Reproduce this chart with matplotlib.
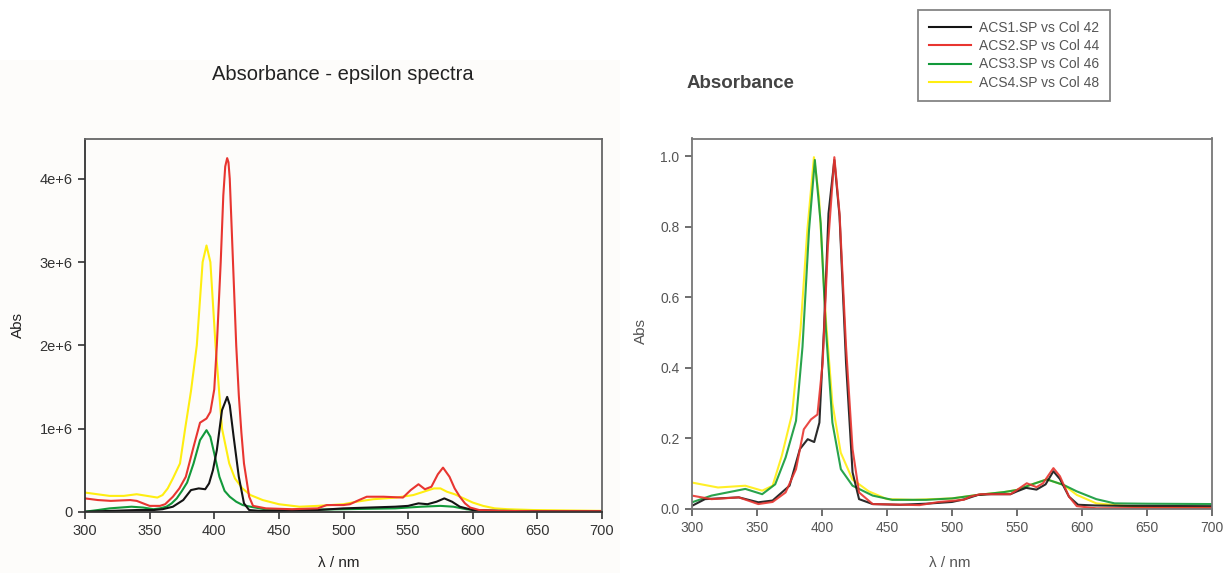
import matplotlib
matplotlib.use("Agg")
import matplotlib.pyplot as plt
from matplotlib.patches import Rectangle
from matplotlib.lines import Line2D

plt.rcParams["font.family"] = ["Liberation Sans", "DejaVu Sans"]

# ---- left panel: epsilon spectra (values in units of 1e6) ----
wl_eps_1 = [300, 320, 340, 353, 360, 368, 376, 382, 388, 393, 396, 399, 402, 406, 410, 412, 415, 419, 423, 427,
            435, 450, 480, 500, 520, 540, 550, 558, 565, 572, 578, 584, 590, 600, 620, 650, 700]
eps_1 = [0.0, 0.01, 0.02, 0.02, 0.03, 0.06, 0.14, 0.26, 0.28, 0.27, 0.34, 0.5, 0.74, 1.22, 1.38, 1.28, 0.9, 0.42, 0.1, 0.02,
         0.01, 0.01, 0.02, 0.04, 0.05, 0.06, 0.07, 0.1, 0.09, 0.12, 0.16, 0.12, 0.06, 0.02, 0.01, 0.005, 0.005]

wl_eps_2 = [300, 310, 320, 335, 340, 350, 358, 362, 368, 373, 378, 384, 389, 394, 397, 400, 402, 405, 407, 408.5, 410,
            411, 412, 415, 417, 419, 421, 423, 427, 430, 440, 460, 480, 487, 500, 505, 512, 518, 531, 546, 552, 558,
            563, 568, 573, 577, 582, 586, 590, 594, 598, 605, 620, 650, 700]
eps_2 = [0.16, 0.14, 0.13, 0.14, 0.13, 0.07, 0.07, 0.09, 0.18, 0.28, 0.42, 0.78, 1.07, 1.12, 1.2, 1.47, 2.0, 3.0, 3.8,
         4.15, 4.25, 4.2, 4.0, 2.8, 2.0, 1.4, 0.95, 0.58, 0.18, 0.07, 0.04, 0.03, 0.04, 0.08, 0.08, 0.09, 0.14, 0.18,
         0.18, 0.17, 0.26, 0.33, 0.27, 0.3, 0.45, 0.53, 0.42, 0.28, 0.18, 0.1, 0.05, 0.02, 0.01, 0.005, 0.005]

wl_eps_3 = [300, 310, 319, 336, 345, 353, 358, 363, 367, 371, 375, 379, 384, 389, 394, 397, 400, 404, 408, 412, 417,
            422, 428, 439, 460, 500, 540, 560, 575, 585, 595, 605, 620, 700]
eps_3 = [0.0, 0.02, 0.04, 0.06, 0.05, 0.03, 0.04, 0.06, 0.1, 0.16, 0.25, 0.35, 0.58, 0.86, 0.98, 0.9, 0.7, 0.42, 0.25,
         0.18, 0.12, 0.08, 0.06, 0.03, 0.02, 0.03, 0.04, 0.06, 0.07, 0.06, 0.03, 0.015, 0.01, 0.005]

wl_eps_4 = [300, 319, 330, 340, 348, 356, 360, 364, 368, 373.5, 377.5, 382, 386.5, 391, 394, 397, 401, 406, 411.6,
            416, 421.8, 428, 437.5, 450, 466, 480, 500, 510, 523, 541, 554, 562, 570, 575, 580, 586, 593, 600, 608,
            617, 627, 647, 700]
eps_4 = [0.23, 0.19, 0.19, 0.21, 0.19, 0.17, 0.2, 0.28, 0.4, 0.58, 1.0, 1.45, 2.0, 3.0, 3.2, 3.0, 2.0, 1.0, 0.58,
         0.4, 0.28, 0.2, 0.14, 0.09, 0.06, 0.07, 0.09, 0.12, 0.15, 0.17, 0.2, 0.24, 0.28, 0.28, 0.24, 0.21, 0.16,
         0.11, 0.07, 0.04, 0.03, 0.02, 0.01]

# ---- right panel: normalised absorbance ----
wl_abs_1 = [300, 310, 336, 351, 362, 375, 383, 389, 394, 398, 401.5, 405, 409.5, 413.5, 418.5, 423.5, 428.5, 439, 460,
            480, 500, 510, 520, 530, 545, 550, 557, 565, 572, 578, 583, 590, 597, 610, 630, 700]
abs_1 = [0.009, 0.028, 0.033, 0.019, 0.024, 0.066, 0.17, 0.198, 0.19, 0.245, 0.508, 0.838, 0.99, 0.83, 0.414, 0.104,
         0.028, 0.014, 0.012, 0.015, 0.02, 0.028, 0.04, 0.042, 0.042, 0.05, 0.06, 0.055, 0.07, 0.107, 0.085, 0.035,
         0.012, 0.01, 0.009, 0.008]

wl_abs_2 = [300, 315, 336, 351, 362, 372, 380, 386, 391.5, 396.5, 400.5, 404.5, 409.5, 413.5, 418.5, 423.5, 428.5, 439,
            475, 490, 509, 514, 522, 545, 550, 557.5, 565, 570, 578, 583, 590, 596, 611, 650, 700]
abs_2 = [0.038, 0.028, 0.033, 0.014, 0.02, 0.047, 0.113, 0.226, 0.254, 0.268, 0.414, 0.744, 0.998, 0.838, 0.46, 0.17,
         0.047, 0.014, 0.011, 0.02, 0.026, 0.035, 0.042, 0.042, 0.054, 0.073, 0.062, 0.073, 0.116, 0.093, 0.035,
         0.008, 0.002, 0.003, 0.003]

wl_abs_3 = [300, 315, 341, 354, 364, 372, 380, 385, 390, 394.5, 399, 403, 408, 414.5, 423.5, 439, 454, 480, 500, 520,
            540, 550, 560, 573, 586, 596, 611, 625, 650, 700]
abs_3 = [0.019, 0.038, 0.057, 0.042, 0.07, 0.146, 0.25, 0.46, 0.79, 0.99, 0.81, 0.51, 0.245, 0.113, 0.066, 0.038,
         0.026, 0.026, 0.03, 0.04, 0.048, 0.054, 0.068, 0.084, 0.068, 0.05, 0.028, 0.016, 0.015, 0.014]

wl_abs_4 = [300, 320, 341, 354, 362, 369, 377, 383.5, 388.7, 393.8, 397.7, 402.8, 408, 414.4, 423.4, 436, 450, 470,
            500, 520, 540, 550, 560, 573, 586, 596, 611, 629, 650, 700]
abs_4 = [0.075, 0.061, 0.066, 0.052, 0.066, 0.15, 0.27, 0.51, 0.79, 0.998, 0.885, 0.546, 0.3, 0.16, 0.084, 0.05,
         0.028, 0.026, 0.03, 0.04, 0.048, 0.054, 0.068, 0.084, 0.068, 0.04, 0.016, 0.01, 0.005, 0.004]

labels = ["ACS1.SP vs Col 42", "ACS2.SP vs Col 44", "ACS3.SP vs Col 46", "ACS4.SP vs Col 48"]
colors = ["#141414", "#e83530", "#12993a", "#ffee10"]
x_ticks = [300, 350, 400, 450, 500, 550, 600, 650, 700]

W, H = 1227, 573
fig = plt.figure(figsize=(W / 100, H / 100), dpi=100, facecolor="white")
fig.patches.append(Rectangle((0, 0), 620 / W, 1 - 60 / H, transform=fig.transFigure,
                             facecolor="#fdfcfa", edgecolor="none", zorder=-10))

def fpos(x0, x1, y_top, y_bot):
    return [x0 / W, 1 - y_bot / H, (x1 - x0) / W, (y_bot - y_top) / H]

# left axes
ax1 = fig.add_axes(fpos(85, 602, 139, 511.7))
ax1.set_facecolor("#fdfcfa")
lw = 1.5
series_eps = [(wl_eps_1, eps_1), (wl_eps_2, eps_2), (wl_eps_3, eps_3), (wl_eps_4, eps_4)]
for i in [3, 2, 0, 1]:
    wl, v = series_eps[i]
    ax1.plot(wl, [e * 1e6 for e in v], color=colors[i], lw=lw)
ax1.set_xlim(300, 700)
ax1.set_ylim(0, 4.48e6)
ax1.set_xticks(x_ticks)
ax1.set_yticks([0, 1e6, 2e6, 3e6, 4e6])
ax1.set_yticklabels(["0", "1e+6", "2e+6", "3e+6", "4e+6"])
ax1.tick_params(direction="out", length=5, width=1.2, labelsize=10.5, colors="#333", pad=4)
for s in ["left", "bottom"]:
    ax1.spines[s].set_color("#333")
    ax1.spines[s].set_linewidth(1.3)
for s in ["top", "right"]:
    ax1.spines[s].set_color("#666")
    ax1.spines[s].set_linewidth(1.3)
ax1.set_ylabel("Abs", fontsize=11, color="#222")
ax1.yaxis.set_label_coords(-0.116, 0.5)
ax1.set_xlabel("λ / nm", fontsize=11, color="#222")
ax1.xaxis.set_label_coords(0.49, -0.12)
fig.text(343 / W, 1 - 75 / H, "Absorbance - epsilon spectra", ha="center", va="center",
         fontsize=14.5, color="#222")

# right axes
ax2 = fig.add_axes(fpos(692, 1212, 138.5, 509))
ax2.set_facecolor("white")
series_abs = [(wl_abs_1, abs_1), (wl_abs_2, abs_2), (wl_abs_3, abs_3), (wl_abs_4, abs_4)]
for i in [3, 2, 0, 1]:
    wl, v = series_abs[i]
    ax2.plot(wl, v, color=colors[i], lw=lw, alpha=0.9)
ax2.set_xlim(300, 700)
ax2.set_ylim(0, 1.051)
ax2.set_xticks(x_ticks)
ax2.set_yticks([0.0, 0.2, 0.4, 0.6, 0.8, 1.0])
ax2.set_yticklabels(["0.0", "0.2", "0.4", "0.6", "0.8", "1.0"])
ax2.tick_params(direction="out", length=5, width=1.2, labelsize=10, colors="#555", pad=4)
for s in ax2.spines.values():
    s.set_color("#777")
    s.set_linewidth(1.3)
ax2.set_ylabel("Abs", fontsize=11, color="#555")
ax2.yaxis.set_label_coords(-0.085, 0.48)
ax2.set_xlabel("λ / nm", fontsize=11, color="#555")
ax2.xaxis.set_label_coords(0.496, -0.128)
fig.text(687 / W, 1 - 84 / H, "Absorbance", ha="left", va="center",
         fontsize=13.5, fontweight="bold", color="#444")

handles = [Line2D([], [], color=c, lw=1.5) for c in colors]
leg = fig.legend(handles, labels, loc="upper left", bbox_to_anchor=(918 / W, 1 - 10 / H),
                 borderaxespad=0, fancybox=False, edgecolor="#666", fontsize=10,
                 handlelength=3.0, labelspacing=0.3, borderpad=0.8, handletextpad=0.6,
                 labelcolor="#555")
leg.get_frame().set_linewidth(1.3)

fig.savefig("out.png", dpi=100)
